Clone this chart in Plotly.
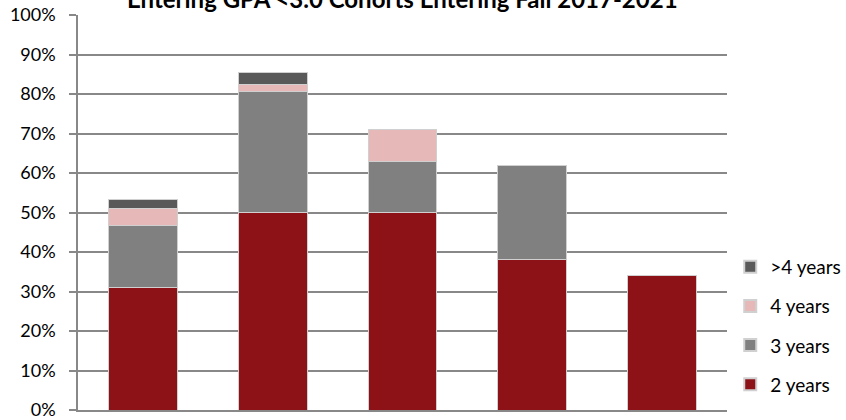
import plotly.graph_objects as go

categories = ["Fall 2017", "Fall 2018", "Fall 2019", "Fall 2020", "Fall 2021"]
two_years = [0.310, 0.500, 0.500, 0.381, 0.341]
three_years = [0.156, 0.306, 0.129, 0.237, 0.0]
four_years = [0.045, 0.017, 0.082, 0.0, 0.0]
over_four_years = [0.022, 0.032, 0.0, 0.0, 0.0]

series_names = ["2 years", "3 years", "4 years", ">4 years"]
series_values = [two_years, three_years, four_years, over_four_years]
series_colors = ["#8C1218", "#808080", "#E6B8B7", "#595959"]

FONT = "Lato, 'Open Sans', 'Liberation Sans', sans-serif"

fig = go.Figure()
for i, (name, vals, col) in enumerate(zip(series_names, series_values, series_colors)):
    fig.add_trace(go.Bar(
        x=categories, y=vals, name=name,
        marker=dict(color=col, line=dict(color="#D0D0D0", width=1)),
        legendgroup=f"g{i}", legendrank=10 - i,
    ))

fig.update_layout(
    barmode="stack",
    bargap=0.47,
    width=846, height=420,
    margin=dict(l=77.5, r=119, t=15.3, b=10, autoexpand=False),
    paper_bgcolor="white", plot_bgcolor="white",
    font=dict(family=FONT, size=19, color="#000000"),
    showlegend=True,
    legend=dict(
        traceorder="grouped", tracegroupgap=11.5,
        x=1.005, xanchor="left", y=0.213, yanchor="middle",
        font=dict(size=19, color="#000000"),
        itemsizing="constant", bgcolor="rgba(0,0,0,0)",
    ),
    annotations=[dict(
        text="<b>Entering GPA <3.0 Cohorts Entering Fall 2017-2021</b>",
        xref="paper", yref="paper", x=0.5, y=1, xanchor="center", yanchor="bottom",
        yshift=0, showarrow=False, font=dict(size=24, family=FONT, color="#000000"),
    )],
)
fig.update_yaxes(
    range=[0, 1], dtick=0.1, tickformat=".0%",
    showgrid=True, gridcolor="#888888", gridwidth=1.5,
    showline=True, linecolor="#888888", linewidth=1.5,
    ticks="outside", ticklen=7, tickcolor="#888888", tickwidth=1.5,
    tickfont=dict(size=18, color="#000000"), ticklabelstandoff=10,
    ticklabeloverflow="allow",
    zeroline=False, automargin=False,
)
fig.update_xaxes(showticklabels=False, showline=True, linecolor="#888888",
                 linewidth=1.5, automargin=False)

fig.write_html("out.html", config={"displayModeBar": False},
               post_script="document.body.style.margin='0';")
